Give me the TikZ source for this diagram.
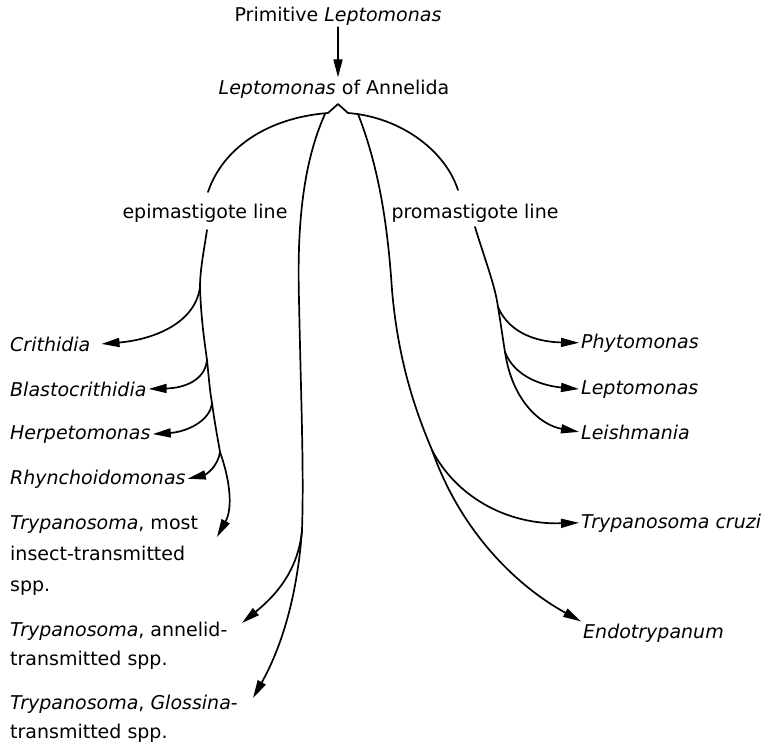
\documentclass[tikz,border=0pt]{standalone}
\usepackage{fontspec}
\setmainfont{DejaVu Sans}
\usetikzlibrary{arrows.meta}
\begin{document}
\begin{tikzpicture}[x=1pt,y=-1pt,
  lbl/.style={font=\fontsize{19}{30}\selectfont, inner sep=2pt, align=left},
  ln/.style={line width=1.7pt, line cap=round, line join=round},
  arr/.style={ln, -{Triangle[length=18pt,width=9pt]}}]
\useasboundingbox (0,0) rectangle (773,745);
% labels
\node[lbl, anchor=base] (prim) at (338,21) {Primitive \textit{Leptomonas}};
\node[lbl, anchor=base] (annel) at (334,94) {\textit{Leptomonas} of Annelida};
\node[lbl, anchor=base] (epi) at (205,218) {epimastigote line};
\node[lbl, anchor=base] (pro) at (475,218) {promastigote line};
\node[lbl, anchor=base west] (crith) at (8,351) {\textit{Crithidia}};
\node[lbl, anchor=base west] (blast) at (8,396) {\textit{Blastocrithidia}};
\node[lbl, anchor=base west] (herp) at (8,439) {\textit{Herpetomonas}};
\node[lbl, anchor=base west] (rhyn) at (8,484) {\textit{Rhynchoidomonas}};
\node[lbl, anchor=base west, font=\fontsize{19}{31}\selectfont] (tmost) at (8,591) {\textit{Trypanosoma}, most\\insect-transmitted\\spp.};
\node[lbl, anchor=base west, font=\fontsize{19}{29}\selectfont] (tann) at (8,665) {\textit{Trypanosoma}, annelid-\\transmitted spp.};
\node[lbl, anchor=base west, font=\fontsize{19}{29}\selectfont] (tglos) at (8,738) {\textit{Trypanosoma}, \textit{Glossina}-\\transmitted spp.};
\node[lbl, anchor=base west] (phyt) at (579,348) {\textit{Phytomonas}};
\node[lbl, anchor=base west] (lept) at (579,394) {\textit{Leptomonas}};
\node[lbl, anchor=base west] (leish) at (579,439) {\textit{Leishmania}};
\node[lbl, anchor=base west] (cruzi) at (579,528) {\textit{Trypanosoma cruzi}};
\node[lbl, anchor=base west] (endo) at (581,638) {\textit{Endotrypanum}};
% coordinates
\coordinate (sL) at (328,113);
\coordinate (apex) at (338,104);
\coordinate (sR) at (348,113);
\coordinate (eL) at (208,192);
\coordinate (eR) at (458,190);
\coordinate (mLs) at (325,114);
\coordinate (mRs) at (358,114);
\coordinate (bML) at (302,530);
\coordinate (bMR) at (432,450);
\coordinate (lS) at (207,230);
\coordinate (bC) at (200,287);
\coordinate (bB) at (207,360);
\coordinate (bH) at (212,403);
\coordinate (bR) at (220,452);
\coordinate (tM) at (217,537);
\coordinate (tA) at (242,623);
\coordinate (tG) at (253,698);
\coordinate (rS) at (475,227);
\coordinate (bP) at (498,307);
\coordinate (bL) at (505,352);
% top arrow
\draw[arr] (prim) -- (prim |- annel.north);
% apex
\draw[ln] (sL) -- (apex) -- (sR);
\draw[ln] (sL) .. controls (265,118) and (222,150) .. (eL);
\draw[ln] (sR) .. controls (400,117) and (445,150) .. (eR);
% middle lines
\draw[ln] (mLs) .. controls (302,165) and (297,230) .. (299,300) .. controls (301,400) and (304,470) .. (bML);
\draw[arr] (bML) .. controls (298,575) and (270,600) .. (tA);
\draw[arr] (bML) .. controls (297,600) and (280,650) .. (tG);
\draw[ln] (mRs) .. controls (380,170) and (388,230) .. (392,290) .. controls (398,360) and (415,410) .. (bMR);
\draw[arr] (bMR) .. controls (455,495) and (505,525) .. (cruzi.west);
\draw[arr] (bMR) .. controls (460,530) and (515,585) .. (endo.north west);
% left main line
\draw[ln] (lS) .. controls (204,250) and (200,270) .. (bC)
  .. controls (201,320) and (205,345) .. (bB)
  .. controls (209,380) and (210,392) .. (bH)
  .. controls (215,425) and (218,440) .. (bR);
\draw[arr] (bR) .. controls (230,480) and (233,508) .. (tM);
\draw[arr] (bC) .. controls (195,325) and (150,340) .. ([xshift=9pt]crith.east);
\draw[arr] (bB) .. controls (205,380) and (185,388) .. (blast.east);
\draw[arr] (bH) .. controls (210,422) and (185,432) .. (herp.east);
\draw[arr] (bR) .. controls (218,467) and (205,475) .. (rhyn.east);
% right main line
\draw[ln] (rS) .. controls (485,260) and (495,285) .. (bP)
  .. controls (501,325) and (503,340) .. (bL);
\draw[arr] (bP) .. controls (510,335) and (540,342) .. (phyt.west);
\draw[arr] (bL) .. controls (515,378) and (545,386) .. (lept.west);
\draw[arr] (bL) .. controls (512,400) and (540,425) .. (leish.west);
\end{tikzpicture}
\end{document}
